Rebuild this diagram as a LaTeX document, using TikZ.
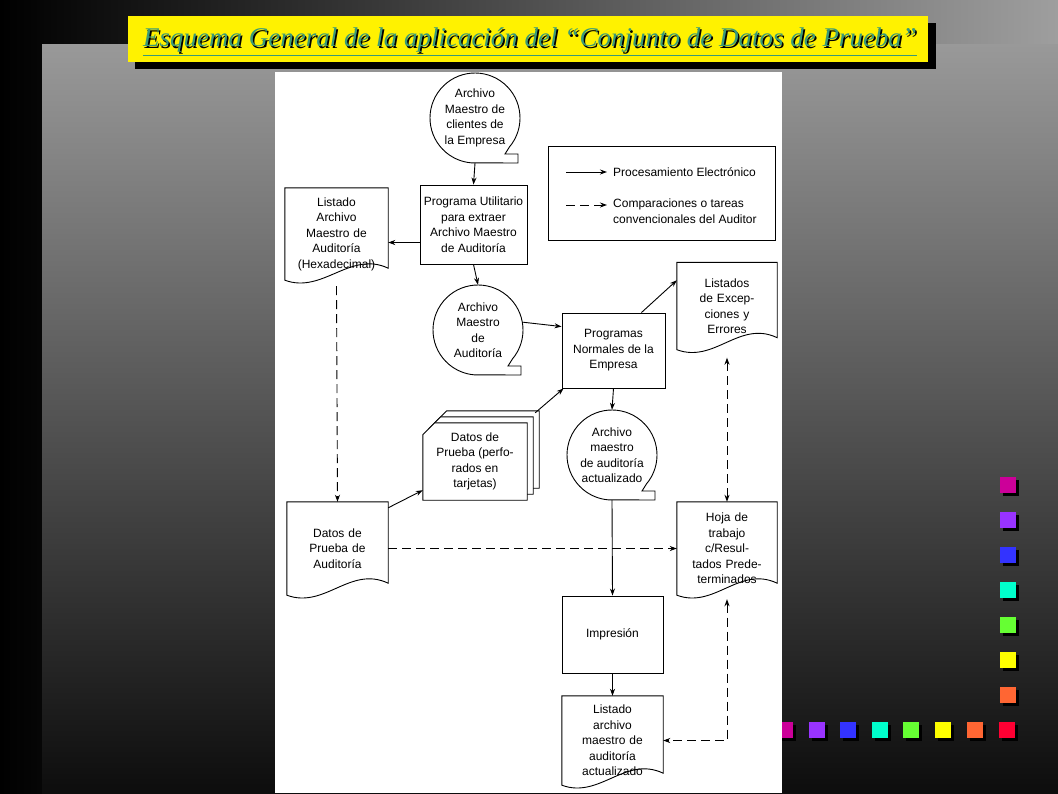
\documentclass[tikz,border=0pt]{standalone}
\usepackage{fontspec}
\setmainfont{Liberation Sans}
\newfontfamily\titlefont{Liberation Serif}
\usetikzlibrary{arrows.meta,calc,positioning}
\definecolor{sqmag}{HTML}{CC0099}
\definecolor{sqpur}{HTML}{9933FF}
\definecolor{sqblu}{HTML}{3333FF}
\definecolor{sqcya}{HTML}{00FFCC}
\definecolor{sqgre}{HTML}{66FF33}
\definecolor{sqyel}{HTML}{FFFF00}
\definecolor{sqora}{HTML}{FF6633}
\definecolor{sqred}{HTML}{FF0033}
\definecolor{titlegreen}{HTML}{3A9A78}
\tikzset{
  line/.style={draw,line width=0.9pt},
  arr/.style={line,-{Stealth[length=7pt,width=5pt]}},
  darr/.style={arr,dash pattern=on 9pt off 5pt},
  dboth/.style={line,dash pattern=on 9pt off 5pt,{Stealth[length=7pt,width=5pt]}-{Stealth[length=7pt,width=5pt]}},
  txt/.style={font=\fontsize{12}{15.5}\selectfont,align=center,inner sep=0pt},
  procbox/.style={txt,line,minimum width=#1,inner sep=0pt},
  tape/.style={txt,circle,minimum size=90pt},
  doc/.style={txt,minimum width=#1,text width=#1-6pt},
}
\newcommand\docpath[1]{\draw[line] (#1.north west) -- (#1.north east) --
  ($(#1.south east)+(0,-12)$) .. controls ($(#1.south east)+(-38,-30)$) and ($(#1.south west)+(38,14)$) .. (#1.south west) -- cycle;}
\newcommand\tapepath[1]{\draw[line] ($(#1.center)+(40:45)$) arc (40:-265:45) -- ($(#1.center)+(43,45)$) -- ($(#1.center)+(43,36)$) -- ($(#1.center)+(30,36)$) -- cycle;}
\newcommand\cardpath[2]{\draw[line,fill=white] ($(#1.north west)+(12+#2,-#2)$) -- ($(#1.north east)+(#2,-#2)$) -- ($(#1.south east)+(#2,-#2)$) -- ($(#1.south west)+(#2,-#2)$) -- ($(#1.north west)+(#2,12-#2)$) -- cycle;}
\begin{document}
\begin{tikzpicture}[x=1pt,y=-1pt]
\useasboundingbox (0,0) rectangle (1058,793);
% background
\shade[left color=black,right color=black!38] (0,0) rectangle (1058,793);
\shade[top color=black!40,bottom color=black!95] (42,44) rectangle (1058,793);
% title
\fill[black] (135,23) rectangle (936,69);
\fill[yellow] (128,16) rectangle (928,62);
\node[font=\titlefont\itshape\fontsize{27}{30}\selectfont,text=black,inner sep=0pt] at (531.5,41.5) {Esquema General de la aplicación del “Conjunto de Datos de Prueba”};
\node[font=\titlefont\itshape\fontsize{27}{30}\selectfont,text=titlegreen,inner sep=0pt] (title) at (530,40) {Esquema General de la aplicación del “Conjunto de Datos de Prueba”};
\draw[titlegreen,line width=1.2pt] ([yshift=-3pt]title.south west) -- ([yshift=-3pt]title.south east);
% squares
\foreach \c [count=\i] in {sqmag,sqpur,sqblu,sqcya,sqgre,sqyel,sqora} {
  \fill[black] (1003,{445+35*\i}) rectangle +(16,16);
  \fill[\c] (1000,{477+35*(\i-1)}) rectangle +(16,16);
}
\foreach \c/\x in {sqmag/777,sqpur/809,sqblu/840,sqcya/872,sqgre/903,sqyel/935,sqora/967,sqred/999} {
  \fill[black] (\x+3,725) rectangle +(16,16);
  \fill[\c] (\x,722) rectangle +(16,16);
}
% white panel
\fill[white] (275,72) rectangle (782,793);

% nodes
\node[tape] (cli) at (475,118) {Archivo\\Maestro de\\clientes de\\la Empresa};
\node[procbox=107pt,minimum height=79pt] (util) at (473.5,224.5) {Programa Utilitario\\para extraer\\Archivo Maestro\\de Auditoría};
\node[doc=103pt,minimum height=92pt] (hexa) at (336.5,234) {Listado\\Archivo\\Maestro de\\Auditoría\\(Hexadecimal)};
\node[tape] (aud) at (478,330) {Archivo\\Maestro\\de\\Auditoría};
\node[procbox=103pt,minimum height=75pt] (norm) at (613.5,350.5) {Programas\\Normales de la\\Empresa};
\node[doc=100pt,minimum height=87pt] (exc) at (727,306) {Listados\\de Excep-\\ciones y\\Errores};
\node[line,minimum width=227pt,minimum height=94pt] (leg) at (661.5,193) {};
\node[tape] (act) at (612,455) {Archivo\\maestro\\de auditoría\\actualizado};
\node[doc=104pt,minimum height=77pt] (tarj) at (475,461.5) {};
\node[doc=101pt,minimum height=93pt] (prueba) at (337.5,548.5) {Datos de\\Prueba de\\Auditoría};
\node[doc=100pt,minimum height=93pt] (hoja) at (727,548.5) {Hoja de\\trabajo\\c/Resul-\\tados Prede-\\terminados};
\node[procbox=101pt,minimum height=77pt] (imp) at (612.5,634.5) {Impresión};
\node[doc=101pt,minimum height=89pt] (list) at (612.5,740.5) {Listado\\archivo\\maestro de\\auditoría\\actualizado};
\node[txt,anchor=west,align=left] (lproc) at (613,172) {Procesamiento Electrónico};
\node[txt,anchor=west,align=left] (lcomp) at (613,211) {Comparaciones o tareas\\convencionales del Auditor};
\coordinate (lp0) at (566,172);
\coordinate (lp1) at (607,172);
\coordinate (lc0) at (566,205);
\coordinate (lc1) at (607,205);

% shapes
\tapepath{cli}
\tapepath{aud}
\tapepath{act}
\docpath{hexa}
\docpath{exc}
\docpath{prueba}
\docpath{hoja}
\docpath{list}
\cardpath{tarj}{12}
\cardpath{tarj}{6}
\cardpath{tarj}{0}
\node[txt] at (tarj) {Datos de\\Prueba (perfo-\\rados en\\tarjetas)};
\coordinate (tarjtop) at ($(tarj.north east)+(8,-10)$);

% connectors
\draw[arr] (lp0) -- (lp1);
\draw[darr] (lc0) -- (lc1);
\draw[arr] (cli.south) -- (util.north);
\draw[arr] ([yshift=-18pt]util.west) -- ([yshift=-18pt]util.west -| hexa.east);
\draw[arr] (util.south) -- (aud.north);
\draw[arr] (aud.10) -- ([yshift=-14pt]norm.north west);
\draw[arr] ([xshift=-24pt]norm.north east) -- ([yshift=-18pt]exc.north west);
\draw[arr] (norm.south) -- (act.north);
\draw[arr] (tarjtop) -- ([xshift=2pt]norm.south west);
\draw[arr] ([yshift=-6pt]prueba.north east) -- ([yshift=10pt]tarj.south west);
\draw[darr] ([yshift=-6pt]hexa.south) -- (prueba.north);
\draw[darr] (prueba.east) -- (hoja.west);
\draw[dboth] ([yshift=-8pt]exc.south) -- (hoja.north);
\draw[arr] (act.south) -- (imp.north);
\draw[arr] (imp.south) -- (list.north);
\draw[dboth] ([yshift=-4pt]hoja.south) |- (list.east);
\end{tikzpicture}
\end{document}
